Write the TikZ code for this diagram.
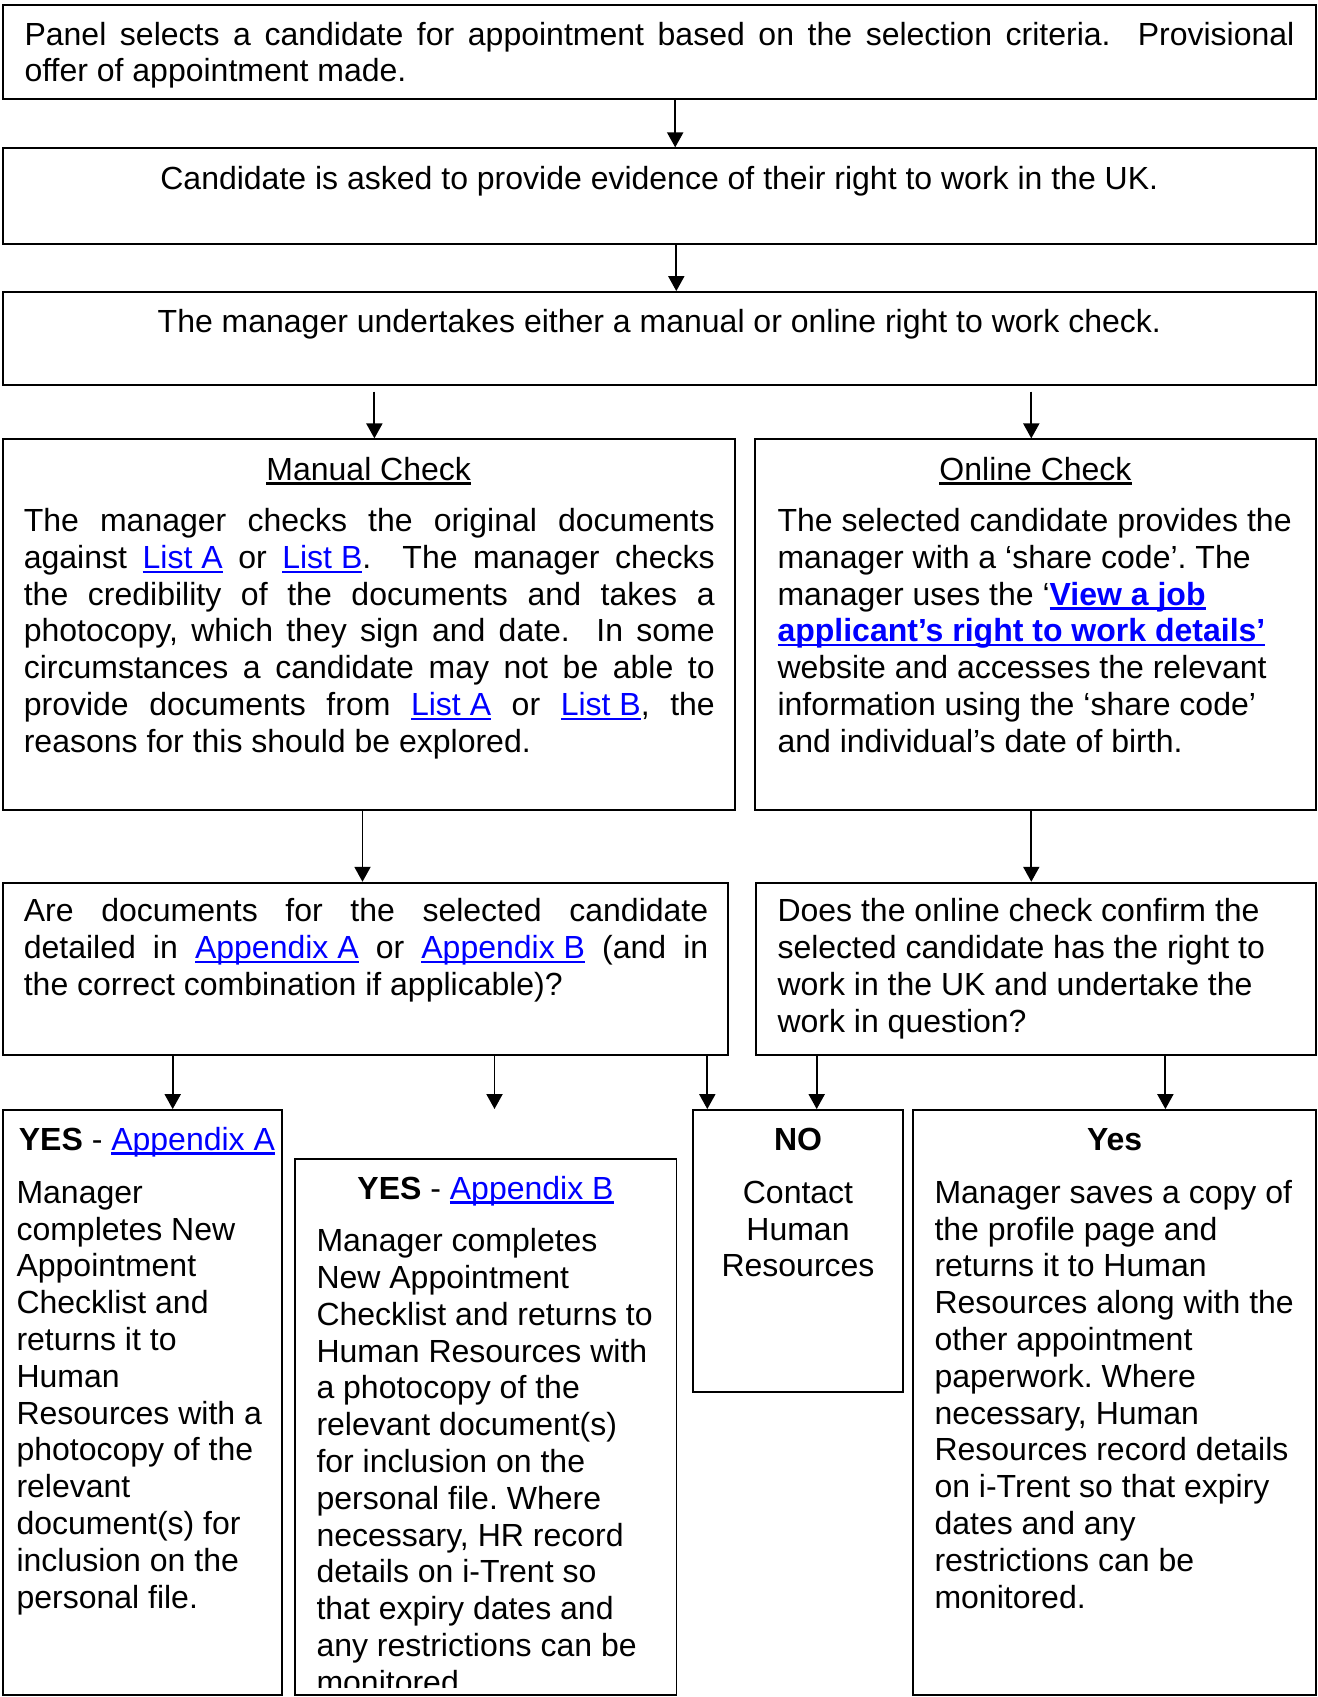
\documentclass[tikz,border=0pt]{standalone}
\usepackage{fontspec}
\setmainfont{Liberation Sans}
\usetikzlibrary{arrows.meta,fit}
\definecolor{lb}{RGB}{0,0,255}
\frenchspacing
\newcommand\ns{\spaceskip=0pt\xspaceskip=0pt\relax}
\newcommand\ulx[1]{\leavevmode\setbox0\hbox{#1}\rlap{\rule[-1.7pt]{\wd0}{0.85pt}}\box0}
\newcommand\lnk[1]{\leavevmode{\color{lb}\ulx{#1}}}
\newcommand\jl[2]{\makebox[#1][s]{\ns #2}}
\begin{document}
\begin{tikzpicture}[x=0.375pt,y=-0.375pt,
  box/.style={draw, line width=0.7pt, inner sep=0pt},
  arr/.style={line width=0.7pt, -{Triangle[width=6pt,length=5.6pt]}},
  txt/.style={inner sep=0pt, font=\fontsize{12pt}{13.8pt}\selectfont, align=left, execute at begin node=\ns},
  ctxt/.style={inner sep=0pt, font=\fontsize{12pt}{13.8pt}\selectfont, align=center, execute at begin node=\ns}]
\useasboundingbox (0,0) rectangle (1318,1697);
\fill[white] (0,0) rectangle (1318,1697);
\clip (0,0) rectangle (1318,1697);

% boxes
\node[box, fit={(2.7,4.7)(1315.8,99.3)}] (b1) {};
\node[box, fit={(2.7,148.3)(1315.8,244.3)}] (b2) {};
\node[box, fit={(2.7,292)(1315.8,385)}] (b3) {};
\node[box, fit={(2.7,439.3)(734.7,810)}] (man) {};
\node[box, fit={(755.3,439.3)(1315.8,810)}] (onl) {};
\node[box, fit={(2.7,882.7)(728.3,1055)}] (q1) {};
\node[box, fit={(756,882.7)(1315.8,1055)}] (q2) {};
\node[box, fit={(2.7,1110)(281.7,1695.2)}] (ya) {};
\node[box, fit={(295,1159)(676.5,1695.2)}] (yb) {};
\node[box, fit={(692.7,1110)(903.3,1391.7)}] (no) {};
\node[box, fit={(913.3,1110)(1315.8,1695.2)}] (yy) {};

% texts
\node[txt, anchor=base west, text width=476.25pt] (t1) at (24,45)
  {\jl{476.25pt}{Panel selects a candidate for appointment based on the selection criteria.~ Provisional}\\
   offer of appointment made.};
\node[ctxt, anchor=base] (t2) at (659.3,189)
  {Candidate is asked to provide evidence of their right to work in the UK.};
\node[ctxt, anchor=base] (t3) at (659.3,332.7)
  {The manager undertakes either a manual or online right to work check.};

\node[ctxt, anchor=base] (mant) at (368.7,480) {\ulx{Manual Check}};
\node[txt, anchor=base west, text width=259.1pt] (manb) at (23.3,531.5)
  {\jl{259.1pt}{The manager checks the original documents}\\
   \jl{259.1pt}{against \lnk{List A} or \lnk{List B}.~ The manager checks}\\
   \jl{259.1pt}{the credibility of the documents and takes a}\\
   \jl{259.1pt}{photocopy, which they sign and date.~ In some}\\
   \jl{259.1pt}{circumstances a candidate may not be able to}\\
   \jl{259.1pt}{provide documents from \lnk{List A} or \lnk{List B}, the}\\
   reasons for this should be explored.};

\node[ctxt, anchor=base] (onlt) at (1035.5,480) {\ulx{Online Check}};
\node[txt, anchor=base west, text width=215pt] (onlb) at (777,531.5)
  {The selected candidate provides the\\
   manager with a ‘share code’. The\\
   manager uses the ‘{\bfseries\lnk{View a job}}\\
   {\bfseries\lnk{applicant’s right to work details’}}\\
   website and accesses the relevant\\
   information using the ‘share code’\\
   and individual’s date of birth.};

\node[txt, anchor=base west, text width=256.65pt] (q1t) at (23.3,921.7)
  {\jl{256.65pt}{Are documents for the selected candidate}\\
   \jl{256.65pt}{detailed in \lnk{Appendix A} or \lnk{Appendix B} (and in}\\
   the correct combination if applicable)?};

\node[txt, anchor=base west, text width=200pt] (q2t) at (777,921.7)
  {Does the online check confirm the\\
   selected candidate has the right to\\
   work in the UK and undertake the\\
   work in question?};

\node[txt, anchor=base west] (yat) at (18.3,1150) {\textbf{YES} - \lnk{Appendix A}};
\node[txt, anchor=base west, text width=150pt] (yab) at (16,1203.3)
  {Manager\\ completes New\\ Appointment\\ Checklist and\\ returns it to\\ Human\\
   Resources with a\\ photocopy of the\\ relevant\\ document(s) for\\ inclusion on the\\ personal file.};

\node[ctxt, anchor=base] (ybt) at (485.5,1199) {\textbf{YES} - \lnk{Appendix B}};
\begin{scope}
\clip (295,1159) rectangle (676.5,1687);
\node[txt, anchor=base west, text width=150pt] (ybb) at (316,1251.7)
  {Manager completes\\ New Appointment\\ Checklist and returns to\\ Human Resources with\\
   a photocopy of the\\ relevant document(s)\\ for inclusion on the\\ personal file. Where\\
   necessary, HR record\\ details on i-Trent so\\ that expiry dates and\\ any restrictions can be\\ monitored.};
\end{scope}

\node[ctxt, anchor=base] (not) at (798,1150) {\textbf{NO}};
\node[ctxt, anchor=base, text width=75pt] (nob) at (798,1203.3) {Contact\\ Human\\ Resources};

\node[ctxt, anchor=base] (yyt) at (1114.6,1150) {\textbf{Yes}};
\node[txt, anchor=base west, text width=170pt] (yyb) at (934,1203.3)
  {Manager saves a copy of\\ the profile page and\\ returns it to Human\\ Resources along with the\\
   other appointment\\ paperwork. Where\\ necessary, Human\\ Resources record details\\
   on i-Trent so that expiry\\ dates and any\\ restrictions can be\\ monitored.};

% connectors
\coordinate (xa) at (675.2,0);
\draw[arr] (b1.south -| xa) -- (b2.north -| xa);
\coordinate (xb) at (676.3,0);
\draw[arr] (b2.south -| xb) -- (b3.north -| xb);
\coordinate (sm) at (374.4,391.7);
\draw[arr] (sm) -- (man.north -| sm);
\coordinate (so) at (1031.3,391.7);
\draw[arr] (so) -- (onl.north -| so);
\coordinate (xc) at (362.5,0);
\draw[arr] (man.south -| xc) -- (q1.north -| xc);
\coordinate (xd) at (1031.3,0);
\draw[arr] (onl.south -| xd) -- (q2.north -| xd);
\coordinate (xe) at (172.7,0);
\draw[arr] (q1.south -| xe) -- (ya.north -| xe);
\coordinate (eb) at (494.5,1109);
\draw[arr] (q1.south -| eb) -- (eb);
\coordinate (xf) at (707.3,0);
\draw[arr] (q1.south -| xf) -- (no.north -| xf);
\coordinate (xg) at (816.7,0);
\draw[arr] (q2.south -| xg) -- (no.north -| xg);
\coordinate (xh) at (1165.4,0);
\draw[arr] (q2.south -| xh) -- (yy.north -| xh);
\end{tikzpicture}
\end{document}
